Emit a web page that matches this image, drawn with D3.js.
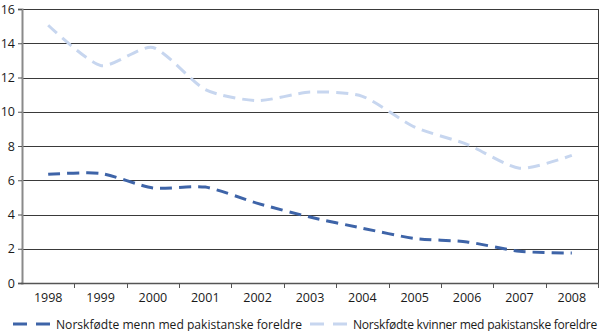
<!DOCTYPE html>
<html>
<head>
<meta charset="utf-8">
<script src="https://cdn.jsdelivr.net/npm/d3@7"></script>
<style>
  html, body { margin: 0; padding: 0; background: #fff; }
  svg { display: block; }
  text { font-family: "Open Sans", "DejaVu Sans", sans-serif; fill: #1a1a1a; }
</style>
</head>
<body>
<svg id="chart" width="600" height="331"></svg>
<script>
// Years along the x axis
const years = ["1998","1999","2000","2001","2002","2003","2004","2005","2006","2007","2008"];
// Norwegian-born men with Pakistani parents
const menValues = [6.35, 6.4, 5.55, 5.6, 4.65, 3.85, 3.2, 2.6, 2.4, 1.85, 1.75];
// Norwegian-born women with Pakistani parents
const womenValues = [15.05, 12.7, 13.75, 11.3, 10.65, 11.15, 10.9, 9.1, 8.1, 6.7, 7.45];
const yTicks = [0, 2, 4, 6, 8, 10, 12, 14, 16];
const seriesNames = ["Norskfødte menn med pakistanske foreldre", "Norskfødte kvinner med pakistanske foreldre"];
const seriesColors = ["#3e64a8", "#c7d6ef"];

const svg = d3.select("#chart");
const plotLeft = 22, plotRight = 598, plotTop = 9, plotBottom = 283;

const x = d3.scaleBand().domain(years).range([plotLeft, plotRight]);
const y = d3.scaleLinear().domain([0, 16]).range([plotBottom, plotTop]);

// Horizontal gridlines
svg.append("g")
  .selectAll("line")
  .data(yTicks.filter(d => d > 0))
  .join("line")
  .attr("x1", plotLeft).attr("x2", plotRight)
  .attr("y1", d => Math.round(y(d)) + 0.5).attr("y2", d => Math.round(y(d)) + 0.5)
  .attr("stroke", "#3a3a3a").attr("stroke-width", 1);

// Right frame line
svg.append("line")
  .attr("x1", plotRight + 0.5).attr("x2", plotRight + 0.5)
  .attr("y1", Math.round(y(16))).attr("y2", plotBottom)
  .attr("stroke", "#3a3a3a").attr("stroke-width", 1);

// Y axis
const yAxis = d3.axisLeft(y).tickValues(yTicks).tickSize(4).tickPadding(3);
const gy = svg.append("g").attr("transform", `translate(${plotLeft},0)`).call(yAxis);
gy.select(".domain").attr("stroke", "#8a8a8a").attr("stroke-width", 2);
gy.selectAll(".tick line").attr("stroke", "#555");
gy.selectAll(".tick text").style("font-size", "12.5px").attr("fill", "#1a1a1a");

// X axis with ticks at band boundaries
const gx = svg.append("g").attr("transform", `translate(0,${plotBottom})`);
gx.append("line").attr("x1", plotLeft - 1).attr("x2", plotRight + 1)
  .attr("y1", 0.5).attr("y2", 0.5).attr("stroke", "#555").attr("stroke-width", 1.5);
const bounds = years.map(d => x(d)).concat([plotRight]).slice(1);
gx.selectAll("line.tk").data(bounds).join("line").attr("class", "tk")
  .attr("x1", d => Math.round(d) + 0.5).attr("x2", d => Math.round(d) + 0.5)
  .attr("y1", 0).attr("y2", 5).attr("stroke", "#555");
gx.selectAll("text").data(years).join("text")
  .attr("x", d => x(d) + x.bandwidth() / 2)
  .attr("y", 19)
  .attr("text-anchor", "middle")
  .style("font-size", "12.5px")
  .text(d => d);

// Smoothed dashed lines
const line = d3.line()
  .x((d, i) => x(years[i]) + x.bandwidth() / 2)
  .y(d => y(d))
  .curve(d3.curveCardinal.tension(0.3));

[menValues, womenValues].forEach((vals, i) => {
  svg.append("path")
    .datum(vals)
    .attr("d", line)
    .attr("fill", "none")
    .attr("stroke", seriesColors[i])
    .attr("stroke-width", 3)
    .attr("stroke-dasharray", "12,7");
});

// Legend: shared font size, letter spacing tightened so each label fits its slot
const legendY = 324;
const legendX = [13, 310];
const legendTextWidth = [246, 244];
const legendTexts = seriesNames.map((name, i) => {
  const g = svg.append("g").attr("transform", `translate(${legendX[i]},${legendY})`);
  g.append("line").attr("x1", 0).attr("x2", 37).attr("y1", 0).attr("y2", 0)
    .attr("stroke", seriesColors[i]).attr("stroke-width", 3)
    .attr("stroke-dasharray", "14,9");
  return g.append("text").attr("x", 43).attr("y", 4.5)
    .style("font-size", "12px").text(name);
});
const w0 = legendTexts[0].node().getComputedTextLength();
const legendFont = 12 * legendTextWidth[0] / w0;
legendTexts.forEach((t, i) => {
  t.style("font-size", legendFont.toFixed(2) + "px");
  const w = t.node().getComputedTextLength();
  const n = seriesNames[i].length;
  if (w > legendTextWidth[i]) {
    t.style("letter-spacing", ((legendTextWidth[i] - w) / n).toFixed(3) + "px");
  }
});
</script>
</body>
</html>
